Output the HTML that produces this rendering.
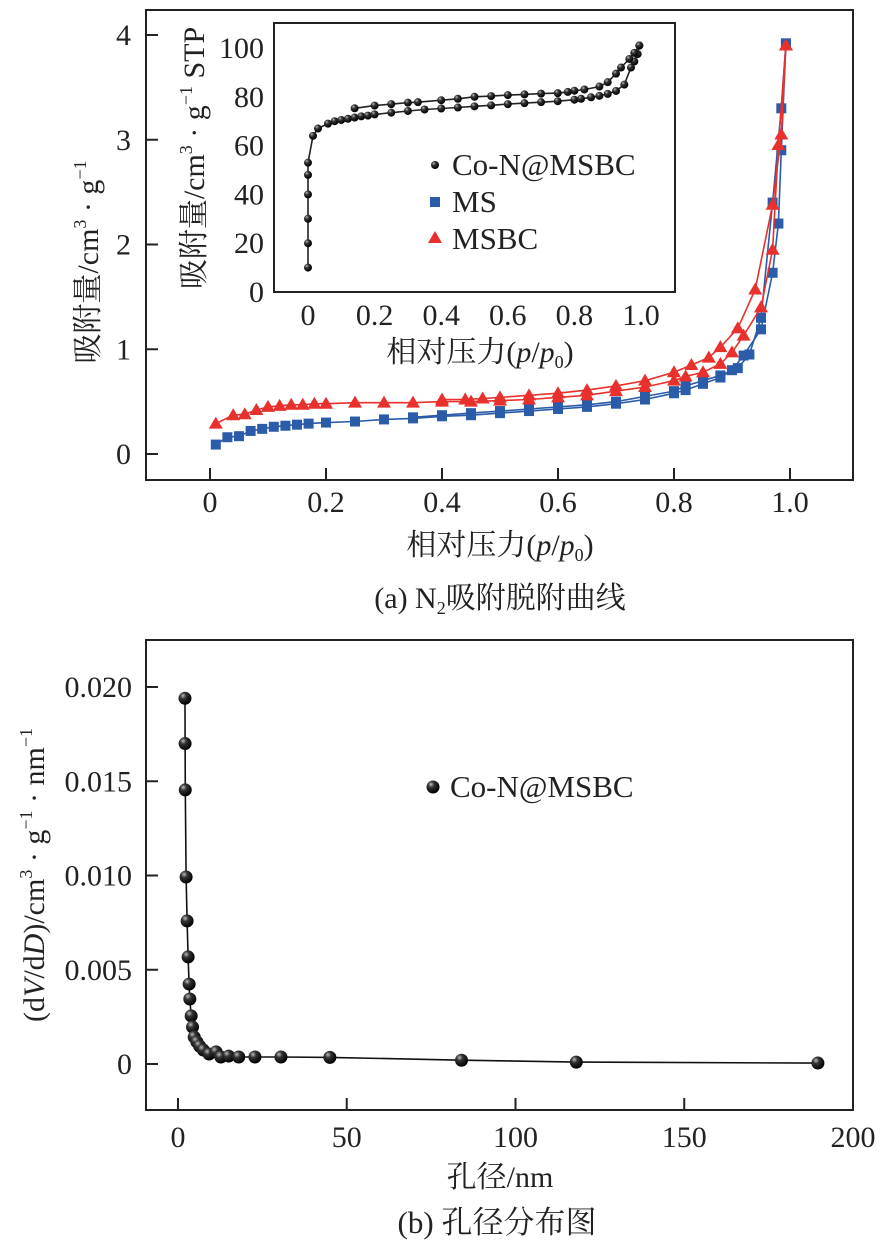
<!DOCTYPE html>
<html><head><meta charset="utf-8"><style>
html,body{margin:0;padding:0;background:#fff}
svg{display:block}
text{font-family:"Liberation Serif","Noto Serif CJK SC","Noto Sans CJK SC",serif;fill:#222}
</style></head><body>
<svg id="svg" width="887" height="1249" viewBox="0 0 887 1249" xmlns="http://www.w3.org/2000/svg">
<defs>
<radialGradient id="ball" cx="0.35" cy="0.3" r="0.7"><stop offset="0" stop-color="#bbb"/><stop offset="0.35" stop-color="#333"/><stop offset="1" stop-color="#000"/></radialGradient>
</defs>
<g id="top"></g>
<g id="inset"></g>
<g id="bot"></g>
</svg>
<script>
// ---- top chart data ----
const msAdsX=[0.01,0.03,0.05,0.07,0.09,0.11,0.13,0.15,0.17,0.2,0.25,0.3,0.35,0.4,0.45,0.5,0.55,0.6,0.65,0.7,0.75,0.8,0.82,0.85,0.88,0.9,0.92,0.95,0.97,0.98,0.985,0.993];
const msAdsY=[0.09,0.16,0.17,0.22,0.24,0.26,0.27,0.28,0.29,0.3,0.31,0.33,0.34,0.36,0.37,0.39,0.41,0.43,0.45,0.48,0.52,0.58,0.61,0.67,0.73,0.8,0.94,1.19,1.73,2.2,2.9,3.92];
const msDesX=[0.993,0.985,0.97,0.95,0.93,0.91,0.88,0.85,0.82,0.8,0.75,0.7,0.65,0.6,0.55,0.5,0.45,0.4,0.35];
const msDesY=[3.92,3.3,2.4,1.3,0.95,0.82,0.75,0.7,0.65,0.6,0.55,0.5,0.47,0.45,0.43,0.41,0.39,0.37,0.35];
const mbAdsX=[0.01,0.04,0.06,0.08,0.1,0.12,0.14,0.16,0.18,0.2,0.25,0.3,0.35,0.4,0.45,0.5,0.55,0.6,0.65,0.7,0.75,0.8,0.82,0.85,0.88,0.9,0.92,0.95,0.97,0.98,0.993];
const mbAdsY=[0.29,0.37,0.38,0.42,0.45,0.46,0.47,0.47,0.48,0.48,0.49,0.49,0.49,0.5,0.5,0.51,0.52,0.54,0.56,0.6,0.64,0.7,0.74,0.78,0.86,0.97,1.13,1.4,1.95,2.95,3.9];
const mbDesX=[0.993,0.985,0.97,0.94,0.91,0.88,0.86,0.83,0.8,0.75,0.7,0.65,0.6,0.55,0.5,0.47,0.44,0.4];
const mbDesY=[3.9,3.05,2.38,1.57,1.2,1.02,0.92,0.85,0.78,0.7,0.65,0.61,0.58,0.56,0.54,0.53,0.52,0.52];
const topXTicks=[0,0.2,0.4,0.6,0.8,1.0];
const topXLabels=["0","0.2","0.4","0.6","0.8","1.0"];
const topYTicks=[0,1,2,3,4];
// ---- inset data ----
const coAdsX=[0,0,0,0,0,0,0.015,0.03,0.06,0.08,0.1,0.12,0.14,0.16,0.18,0.2,0.25,0.3,0.35,0.4,0.45,0.5,0.55,0.6,0.65,0.7,0.75,0.8,0.82,0.85,0.875,0.9,0.925,0.95,0.97,0.98,0.99,0.995];
const coAdsY=[10,20,30,40,48,53,64,67,69,70,70.5,71,71.5,72,72.3,72.8,73.5,74.2,74.8,75.2,75.6,76.1,76.5,77,77.4,77.8,78.2,78.8,79.2,79.8,80.4,81.2,82.4,85,92,94.5,97.5,101];
const coDesX=[0.995,0.98,0.965,0.94,0.925,0.9,0.875,0.83,0.8,0.78,0.75,0.7,0.65,0.6,0.55,0.5,0.45,0.4,0.33,0.3,0.25,0.2,0.14];
const coDesY=[101,98,95.5,92,89.5,86,84.2,83,82.5,82,81.5,81.3,81,80.7,80.3,80,79.2,78.6,77.8,77.6,77,76.4,75.3];
const insetXTicks=[0,0.2,0.4,0.6,0.8,1.0];
const insetXLabels=["0","0.2","0.4","0.6","0.8","1.0"];
const insetYTicks=[0,20,40,60,80,100];
// ---- bottom data ----
const poreD=[2.07,2.1,2.15,2.4,2.7,3.0,3.3,3.5,3.9,4.3,4.8,5.6,6.4,7.5,9.2,11.3,12.7,15,18,22.8,30.5,45,84,118,189.6];
const poreV=[0.0194,0.0170,0.01454,0.00992,0.00759,0.00568,0.00424,0.00345,0.00255,0.00196,0.00143,0.00117,0.00095,0.00074,0.00053,0.00064,0.00037,0.00042,0.00037,0.00037,0.00037,0.00035,0.0002,0.0001,0.00005];
const botXTicks=[0,50,100,150,200];
const botYTicks=[0,0.005,0.010,0.015,0.020];
const botYLabels=["0","0.005","0.010","0.015","0.020"];

const FS=30;
const NS="http://www.w3.org/2000/svg";
function mk(parent,tag,attrs,txt){const e=document.createElementNS(NS,tag);for(const k in attrs)e.setAttribute(k,attrs[k]);if(txt!==undefined)e.textContent=txt;parent.appendChild(e);return e;}
function lin(d0,d1,p0,p1){return v=>p0+(v-d0)*(p1-p0)/(d1-d0);}
const SUP='font-size="18" dy="-12"', SUPB='dy="12"';

// ---------- TOP ----------
const gT=document.getElementById('top');
const tx=lin(0,1,210,790), ty=lin(0,4,454,35);
let e=mk(gT,'rect',{x:146,y:10,width:707,height:470,fill:'none',stroke:'#222','stroke-width':2});


topXTicks.forEach((t,i)=>{
  let l=mk(gT,'line',{x1:tx(t),x2:tx(t),y1:480,y2:468,stroke:'#222','stroke-width':2});
  
  
  let s=mk(gT,'text',{x:tx(t),y:512,'font-size':FS,'text-anchor':'middle'},topXLabels[i]);
  
  
});
topYTicks.forEach(t=>{
  let l=mk(gT,'line',{x1:146,x2:158,y1:ty(t),y2:ty(t),stroke:'#222','stroke-width':2});
  
  
  let s=mk(gT,'text',{x:131,y:ty(t)+10,'font-size':FS,'text-anchor':'end'},String(t));
  
  
});
function series(g,xs,ys,fx,fy,color,marker,name){
  let d=xs.map((x,i)=>(i?'L':'M')+fx(x).toFixed(1)+' '+fy(ys[i]).toFixed(1)).join('');
  let p=mk(g,'path',{d:d,fill:'none',stroke:color,'stroke-width':1.6});
  
  
  xs.forEach((x,i)=>{
    const cx=fx(x),cy=fy(ys[i]);let m;
    if(marker==='sq'){m=mk(g,'rect',{x:cx-5,y:cy-5,width:10,height:10,fill:color});}
    else if(marker==='tri'){m=mk(g,'path',{d:`M${cx} ${cy-7}L${cx+7} ${cy+5}L${cx-7} ${cy+5}Z`,fill:color});}
    else if(marker==='dot'){m=mk(g,'circle',{cx:cx,cy:cy,r:4,fill:'url(#ball)'});}
    else {m=mk(g,'circle',{cx:cx,cy:cy,r:6.5,fill:'url(#ball)'});}
    
    
  });
}
series(gT,msAdsX,msAdsY,tx,ty,'#2a5caa','sq','ms-adsorption');
series(gT,msDesX,msDesY,tx,ty,'#2a5caa','sq','ms-desorption');
series(gT,mbAdsX,mbAdsY,tx,ty,'#e8302c','tri','msbc-adsorption');
series(gT,mbDesX,mbDesY,tx,ty,'#e8302c','tri','msbc-desorption');
e=mk(gT,'text',{x:500,y:555,'font-size':FS,'text-anchor':'middle'});
e.innerHTML='相对压力(<tspan font-style="italic">p</tspan>/<tspan font-style="italic">p</tspan><tspan font-size="18" dy="6">0</tspan><tspan dy="-6">)</tspan>';


e=mk(gT,'text',{x:0,y:0,'font-size':FS,'text-anchor':'middle',transform:'translate(98,262) rotate(-90)'});
e.innerHTML=`吸附量/cm<tspan ${SUP}>3</tspan><tspan ${SUPB}> · g</tspan><tspan ${SUP}>−1</tspan>`;


e=mk(gT,'text',{x:500,y:608,'font-size':FS,'text-anchor':'middle'});
e.innerHTML='(a) N<tspan font-size="18" dy="6">2</tspan><tspan dy="-6">吸附脱附曲线</tspan>';



// ---------- INSET ----------
const gI=document.getElementById('inset');
const ix=lin(0,1,308,641), iy=lin(0,100,292,48);
e=mk(gI,'rect',{x:274,y:23,width:401,height:269,fill:'#fff',stroke:'#222','stroke-width':2});


insetXTicks.forEach((t,i)=>{
  let s=mk(gI,'text',{x:ix(t),y:325,'font-size':FS,'text-anchor':'middle'},insetXLabels[i]);
  
  
});
insetYTicks.forEach(t=>{
  let s=mk(gI,'text',{x:264,y:iy(t)+10,'font-size':FS,'text-anchor':'end'},String(t));
  
  
});
series(gI,coAdsX,coAdsY,ix,iy,'#222','dot','co-n-msbc-adsorption');
series(gI,coDesX,coDesY,ix,iy,'#222','dot','co-n-msbc-desorption');
e=mk(gI,'text',{x:480,y:362,'font-size':FS,'text-anchor':'middle'});
e.innerHTML='相对压力(<tspan font-style="italic">p</tspan>/<tspan font-style="italic">p</tspan><tspan font-size="18" dy="6">0</tspan><tspan dy="-6">)</tspan>';


e=mk(gI,'text',{x:0,y:0,'font-size':FS,'text-anchor':'middle',transform:'translate(204,158) rotate(-90)'});
e.innerHTML=`吸附量/cm<tspan ${SUP}>3</tspan><tspan ${SUPB}> · g</tspan><tspan ${SUP}>−1</tspan><tspan ${SUPB}> STP</tspan>`;


// legend
e=mk(gI,'circle',{cx:435,cy:165,r:4,fill:'url(#ball)'});


e=mk(gI,'text',{x:452,y:175,'font-size':31},'Co-N@MSBC');


e=mk(gI,'rect',{x:430,y:197,width:10,height:10,fill:'#2a5caa'});


e=mk(gI,'text',{x:452,y:212,'font-size':31},'MS');


e=mk(gI,'path',{d:'M435 231L442 243L428 243Z',fill:'#e8302c'});


e=mk(gI,'text',{x:452,y:249,'font-size':31},'MSBC');



// ---------- BOTTOM ----------
const gB=document.getElementById('bot');
const bx=lin(0,200,178,853), by=lin(0,0.02,1064,687);
e=mk(gB,'rect',{x:146,y:640,width:707,height:470,fill:'none',stroke:'#222','stroke-width':2});


botXTicks.forEach(t=>{
  let l=mk(gB,'line',{x1:bx(t),x2:bx(t),y1:1110,y2:1098,stroke:'#222','stroke-width':2});
  
  
  let s=mk(gB,'text',{x:bx(t),y:1147,'font-size':FS,'text-anchor':'middle'},String(t));
  
  
});
botYTicks.forEach((t,i)=>{
  let l=mk(gB,'line',{x1:146,x2:158,y1:by(t),y2:by(t),stroke:'#222','stroke-width':2});
  
  
  let s=mk(gB,'text',{x:132,y:by(t)+10,'font-size':FS,'text-anchor':'end'},botYLabels[i]);
  
  
});
series(gB,poreD,poreV,bx,by,'#111','ball','pore-distribution');
e=mk(gB,'circle',{cx:433,cy:787,r:6.5,fill:'url(#ball)'});


e=mk(gB,'text',{x:450,y:797,'font-size':31},'Co-N@MSBC');


e=mk(gB,'text',{x:500,y:1187,'font-size':FS,'text-anchor':'middle'},'孔径/nm');


e=mk(gB,'text',{x:0,y:0,'font-size':FS,'text-anchor':'middle',transform:'translate(44,875) rotate(-90)'});
e.innerHTML=`(d<tspan font-style="italic">V</tspan>/d<tspan font-style="italic">D</tspan>)/cm<tspan ${SUP}>3</tspan><tspan ${SUPB}> · g</tspan><tspan ${SUP}>−1</tspan><tspan ${SUPB}> · nm</tspan><tspan ${SUP}>−1</tspan>`;


e=mk(gB,'text',{x:497,y:1233,'font-size':31,'text-anchor':'middle'},'(b) 孔径分布图');


</script>
</body></html>
